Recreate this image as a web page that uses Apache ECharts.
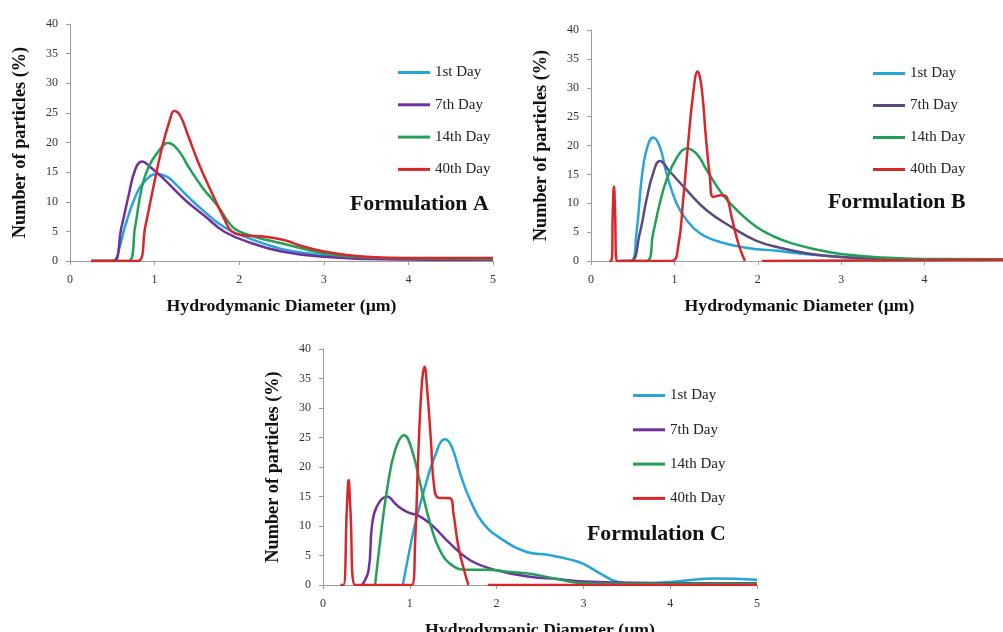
<!DOCTYPE html>
<html>
<head>
<meta charset="utf-8">
<script src="https://cdn.jsdelivr.net/npm/echarts@6/dist/echarts.min.js"></script>
<style>
html, body { margin: 0; padding: 0; background: #fff; }
#container { width: 1003px; height: 632px; }
</style>
</head>
<body>
<div id="container"></div>
<script>
// legend / series names
const dayNames = ['1st Day', '7th Day', '14th Day', '40th Day'];

// Formulation A  [diameter um, % particles]
const aDay1 = [[0.25,0],[0.52,0],[0.58,2],[0.65,5.8],[0.78,11.1],[0.9,13.7],[1.03,14.7],[1.15,14.2],[1.24,13.1],[1.35,11.5],[1.48,9.7],[1.6,8.2],[1.75,6.4],[1.9,5.1],[2.07,4.1],[2.3,2.9],[2.54,1.9],[2.8,1.3],[3.0,1.0],[3.5,0.5],[4.0,0.35],[5.0,0.3]];
const aDay7 = [[0.25,0],[0.5,0],[0.61,5.8],[0.69,10.9],[0.77,15.4],[0.85,16.8],[0.97,15.6],[1.12,13.7],[1.36,10.3],[1.6,7.5],[1.83,4.9],[2.15,3.0],[2.5,1.6],[3.0,0.7],[3.5,0.35],[4.0,0.25],[5.0,0.2]];
const aDay14 = [[0.25,0],[0.69,0],[0.77,5.8],[0.85,12.5],[0.93,15.9],[1.03,18.2],[1.16,19.9],[1.28,18.7],[1.4,15.9],[1.56,12.5],[1.75,9.2],[1.91,5.9],[2.0,5.0],[2.2,4.0],[2.5,3.0],[3.0,1.3],[3.5,0.6],[4.0,0.45],[5.0,0.35]];
const aDay40 = [[0.25,0],[0.8,0],[0.89,5.8],[0.97,11.4],[1.08,18.7],[1.18,23.8],[1.23,25.3],[1.3,24.6],[1.4,21],[1.52,16.5],[1.68,11.4],[1.83,6.9],[1.91,5.0],[2.03,4.4],[2.31,4.1],[2.54,3.5],[2.7,2.7],[3.0,1.6],[3.5,0.7],[4.0,0.5],[5.0,0.5]];

// Formulation B
const bDay1 = [[0.35,0],[0.48,0],[0.545,4.8],[0.605,14],[0.665,19.2],[0.745,21.4],[0.825,19.8],[0.905,15.2],[1.025,10],[1.145,7.1],[1.305,4.8],[1.545,3.3],[1.9,2.2],[2.2,1.8],[2.5,1.3],[3.0,0.7],[3.5,0.4],[4.0,0.3],[5.0,0.2]];
const bDay7 = [[0.35,0],[0.48,0],[0.585,4.8],[0.665,10.6],[0.745,15.2],[0.825,17.3],[0.945,15.5],[1.145,12.3],[1.385,8.8],[1.705,5.7],[1.985,3.5],[2.265,2.3],[2.6,1.3],[3.0,0.7],[3.5,0.4],[4.0,0.3],[5.0,0.2]];
const bDay14 = [[0.45,0],[0.665,0],[0.745,4.8],[0.825,10],[0.905,14],[1.025,17.8],[1.15,19.5],[1.265,18.6],[1.385,15.8],[1.585,11.4],[1.785,8.3],[1.985,5.9],[2.2,4.2],[2.4,3.1],[2.7,2.0],[3.0,1.2],[3.5,0.6],[4.0,0.35],[5.0,0.3]];
const bDay40 = [[0.22,0],[0.245,0],[0.262,9],[0.275,12.9],[0.288,9],[0.31,0],[0.965,0],[1.045,2.5],[1.105,10.6],[1.165,20.4],[1.225,29],[1.277,32.8],[1.325,30.2],[1.377,21.5],[1.425,14.6],[1.465,11.1],[1.565,11.4],[1.625,11.1],[1.685,7.7],[1.765,3.1],[1.845,0],[1.95,null],[2.05,0],[5.0,0.2]];

// Formulation C
const cDay1 = [[0.92,0],[1.005,6.5],[1.082,11.6],[1.177,16.7],[1.273,21.2],[1.407,24.7],[1.484,23.4],[1.58,18.9],[1.695,14.4],[1.848,10.4],[2.078,7.6],[2.347,5.6],[2.6,5.1],[2.85,4.3],[3.0,3.6],[3.2,1.9],[3.4,0.5],[3.6,0.2],[4.0,0.5],[4.5,1.1],[5.0,0.9]];
const cDay7 = [[0.45,0],[0.525,2.5],[0.563,9.9],[0.62,13.3],[0.737,15],[0.852,13.5],[0.967,12.4],[1.12,11.6],[1.273,9.9],[1.465,7.0],[1.695,4.2],[2.0,2.5],[2.385,1.4],[2.7,1.0],[3.0,0.6],[3.5,0.4],[4.0,0.3],[5.0,0.3]];
const cDay14 = [[0.6,0],[0.66,7.6],[0.737,16.1],[0.832,22.9],[0.935,25.4],[1.024,22.9],[1.12,17.2],[1.235,10.4],[1.35,5.8],[1.5,3.2],[1.657,2.6],[1.887,2.6],[2.1,2.3],[2.385,1.9],[2.7,1.0],[3.0,0.3],[3.5,0.2],[4.0,0.2],[5.0,0.2]];
const cDay40 = [[0.2,0],[0.235,0],[0.275,13],[0.295,17.8],[0.315,13],[0.37,0],[1.024,0],[1.062,7.6],[1.1,22.9],[1.139,34.2],[1.17,37],[1.2,33.1],[1.243,24.6],[1.28,16.7],[1.33,14.8],[1.465,14.7],[1.503,12.1],[1.56,6.5],[1.637,1.9],[1.675,0],[1.8,null],[1.9,0],[5.0,0]];

const panelLabels = ['Formulation A', 'Formulation B', 'Formulation C'];
const xTitle = 'Hydrodymanic Diameter (\u00b5m)';
const yTitle = 'Number of particles (%)';

const serif = '"Liberation Serif", "DejaVu Serif", serif';
const cyan = '#27a4d8', purple = '#7030a0', purpleB = '#5c4a7c', green = '#23a058', red = '#d8262a';

// grid boxes, legend and label spots
var panels = [
	{ grid: { left: 70, top: 24, width: 423, height: 237 }, data: [aDay1, aDay7, aDay14, aDay40],
	  colors: [cyan, purple, green, red], legend: { left: 398, top: 65, gap: 17.3 }, label: { left: 350, top: 193 } },
	{ grid: { left: 591, top: 30, width: 417, height: 231 }, data: [bDay1, bDay7, bDay14, bDay40],
	  colors: [cyan, purpleB, green, red], legend: { left: 873, top: 66, gap: 17 }, label: { left: 828, top: 191 } },
	{ grid: { left: 323, top: 349, width: 434, height: 236 }, data: [cDay1, cDay7, cDay14, cDay40],
	  colors: [cyan, purple, green, red], legend: { left: 633, top: 388, gap: 19.3 }, label: { left: 587, top: 523 } }
];

function buildOption() {
	let grid = [], xAxis = [], yAxis = [], legend = [], graphic = [], series = [];

	panels.forEach((p, i) => {
		// keep the measured box, do not let echarts squeeze it to fit labels
		grid.push(Object.assign({ containLabel: false, outerBoundsMode: 'none' }, p.grid));

		xAxis.push({
			type: 'value', gridIndex: i, min: 0, max: 5, interval: 1,
			name: xTitle, nameLocation: 'middle', nameGap: 36,
			nameTextStyle: { fontFamily: serif, fontWeight: 'bold', fontSize: 17.7, color: '#111' },
			axisLine: { show: true, onZero: false, lineStyle: { color: '#9a9a9a', width: 1 } },
			axisTick: { show: true, length: 4, lineStyle: { color: '#9a9a9a' } },
			axisLabel: { fontFamily: serif, fontSize: 12, color: '#333', margin: 13 },
			splitLine: { show: false }
		});

		yAxis.push({
			type: 'value', gridIndex: i, min: 0, max: 40, interval: 5,
			name: yTitle, nameLocation: 'middle', nameGap: 41,
			nameTextStyle: { fontFamily: serif, fontWeight: 'bold', fontSize: 18.3, color: '#111' },
			axisLine: { show: true, lineStyle: { color: '#9a9a9a', width: 1 } },
			axisTick: { show: true, length: 4, lineStyle: { color: '#9a9a9a' } },
			axisLabel: { fontFamily: serif, fontSize: 12, color: '#333', margin: 12 },
			splitLine: { show: false }
		});

		legend.push({
			orient: 'vertical', left: p.legend.left, top: p.legend.top, padding: 0,
			itemGap: p.legend.gap, itemWidth: 32, itemHeight: 3, icon: 'rect',
			selectedMode: false,
			textStyle: { fontFamily: serif, fontSize: 15, color: '#222', lineHeight: 15 },
			data: dayNames.map((n, k) => ({ name: n, itemStyle: { color: p.colors[k] } }))
		});

		graphic.push({
			type: 'text', left: p.label.left, top: p.label.top,
			style: { text: panelLabels[i], font: 'bold 21.8px ' + serif, fill: '#111' }
		});

		p.data.forEach((d, k) => {
			series.push({
				type: 'line', name: dayNames[k], xAxisIndex: i, yAxisIndex: i,
				data: d, smooth: 0.45, symbol: 'none', connectNulls: false,
				lineStyle: { width: 2.5, color: p.colors[k] },
				itemStyle: { color: p.colors[k] }
			});
		});
	});

	return { backgroundColor: '#fff', animation: false, grid, xAxis, yAxis, legend, graphic, series };
}

var chart = echarts.init(document.getElementById('container'), null, { renderer: 'canvas' });
chart.setOption(buildOption());
</script>
</body>
</html>
